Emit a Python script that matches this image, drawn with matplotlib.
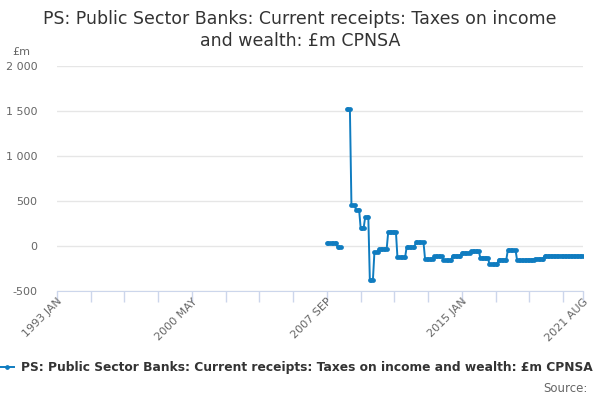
import numpy as np
import matplotlib
matplotlib.use('Agg')
import matplotlib.pyplot as plt

# monthly series 1993 JAN .. 2021 AUG, blanks before 2007 SEP
start_year = 1993
n_months = 344
first_obs = 176  # 2007 SEP

# values, one per month from 2007 SEP
obs = [
    30, 30, 30, 30, 30, 30, 30,          # 2007 SEP - 2008 MAR
    -15, -15, -15,                       # 2008 Q2
    np.nan, np.nan, np.nan,              # 2008 Q3
    1520, 1520, 1520,                    # 2008 Q4
    455, 455, 455,
    402, 402, 402,
    204, 204, 204,
    325, 325, 325,
    -378, -378, -378,
    -65, -65, -65,
    -30, -30, -30, -30, -30, -30,        # 2010 H2
    160, 160, 160, 160, 160, 160,
    -126, -126, -126, -126, -126, -126,
    -12, -12, -12, -12, -12, -12,
    40, 40, 40, 40, 40, 40,
    -144, -144, -144, -144, -144, -144,
    -111, -111, -111, -111, -111, -111,
    -156, -156, -156, -156, -156, -156,
    -107, -107, -107, -107, -107, -107,
    -74, -74, -74, -74, -74, -74,
    -54, -54, -54, -54, -54, -54,
    -128, -128, -128, -128, -128, -128,
    -205, -205, -205, -205, -205, -205,
    -150, -150, -150, -150, -150, -150,
    -44, -44, -44, -44, -44, -44,
    -156, -156, -156, -156, -156, -156,
    -150, -150, -150, -150, -150, -150,
    -140, -140, -140, -140, -140, -140,
    -107, -107, -107, -107, -107, -107,  # 2019 JUL onwards
    -107, -107, -107, -107, -107, -107,
    -107, -107, -107, -107, -107, -107,
    -107, -107, -107, -107, -107, -107,
    -107, -107,
]

label_months = [0, 88, 176, 264, 343]
month_names = ['JAN', 'FEB', 'MAR', 'APR', 'MAY', 'JUN',
               'JUL', 'AUG', 'SEP', 'OCT', 'NOV', 'DEC']
title = 'PS: Public Sector Banks: Current receipts: Taxes on income\nand wealth: £m CPNSA'
series_name = 'PS: Public Sector Banks: Current receipts: Taxes on income and wealth: £m CPNSA'

values = np.full(n_months, np.nan)
values[first_obs:first_obs + len(obs)] = obs
x = np.arange(n_months)

blue = '#0f7cc0'
grey = '#666666'

fig = plt.figure(figsize=(6, 4), dpi=100)
ax = fig.add_axes([57 / 600, 1 - 291 / 400, 526 / 600, 225 / 400])

ax.plot(x, values, color=blue, lw=1.4, marker='o', ms=2.4, mec=blue, mfc=blue)

ax.set_xlim(0, n_months - 1)
ax.set_ylim(-500, 2000)
ax.set_yticks(np.arange(-500, 2001, 500))
ax.set_yticklabels([f'{v:,}'.replace(',', ' ') for v in range(-500, 2001, 500)])
ax.yaxis.grid(True, color='#e6e6e6', lw=1)
ax.set_axisbelow(True)

ticks = list(range(0, n_months, 22)) + [n_months - 1]
ax.set_xticks(ticks)
ax.set_xticklabels(['' for _ in ticks])
for m in label_months:
    lab = f'{start_year + m // 12} {month_names[m % 12]}'
    ax.text(m, -560, lab, rotation=45, ha='right', va='top', fontsize=8,
            color=grey, rotation_mode='anchor', transform=ax.transData)

for s in ['top', 'right', 'left']:
    ax.spines[s].set_visible(False)
ax.spines['bottom'].set_color('#ccd6eb')
ax.tick_params(axis='x', length=8, color='#ccd6eb', width=1)
ax.tick_params(axis='y', length=0, labelsize=8, labelcolor=grey, pad=14)

fig.text(0.5, 1 - 30 / 400, title, ha='center', va='center', fontsize=12.5, color='#333333',
         linespacing=1.35)
fig.text(12 / 600, 1 - 52 / 400, '£m', ha='left', va='center', fontsize=8, color=grey)

# legend
fig.add_artist(plt.Line2D([0, 14 / 600], [1 - 367 / 400] * 2, color=blue, lw=1.4,
                          transform=fig.transFigure))
fig.add_artist(plt.Line2D([7 / 600], [1 - 367 / 400], color=blue, marker='o', ms=2.4,
                          transform=fig.transFigure))
fig.text(21 / 600, 1 - 367 / 400, series_name, ha='left', va='center', fontsize=8.8,
         fontweight='bold', color='#333333')
fig.text(588 / 600, 1 - 388 / 400, 'Source:', ha='right', va='center', fontsize=8.5, color=grey)

fig.savefig('out.png', dpi=100)
